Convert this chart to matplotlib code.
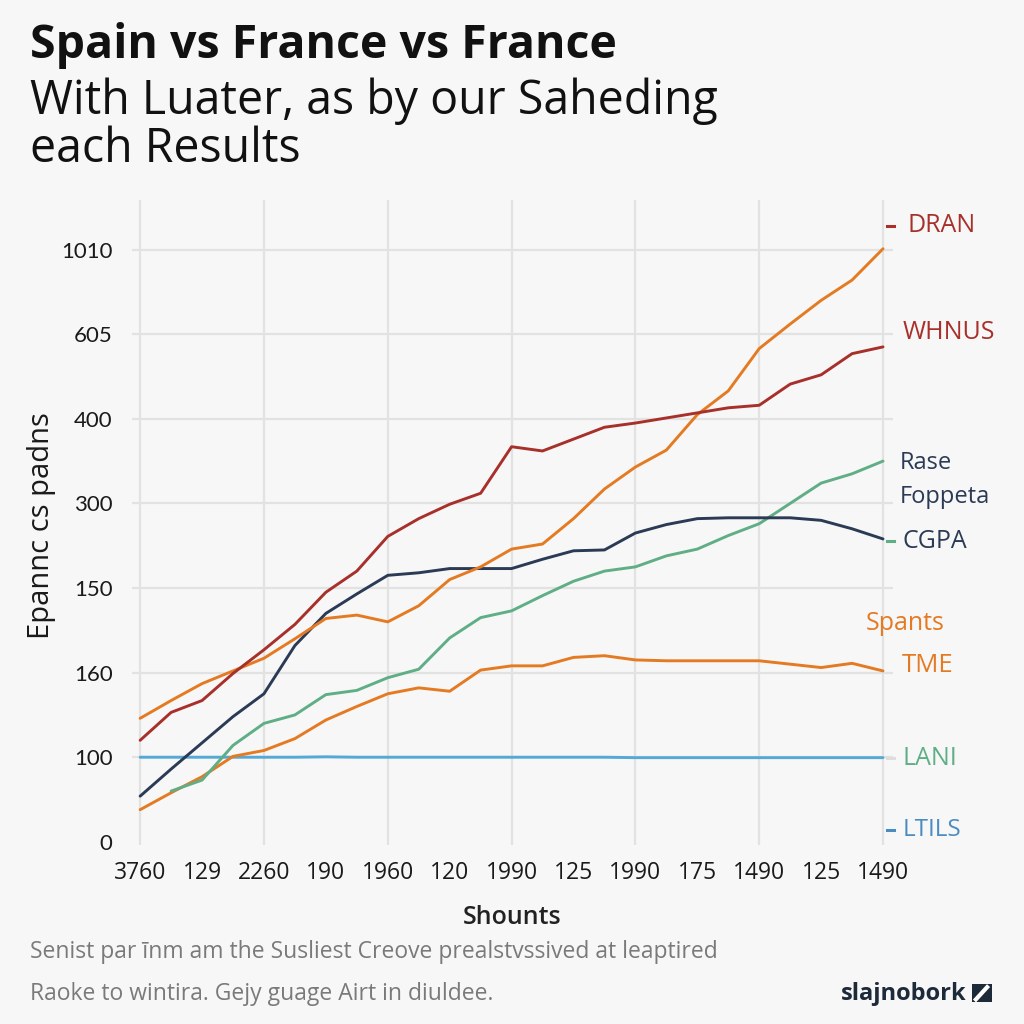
import matplotlib
matplotlib.use("Agg")
import matplotlib.pyplot as plt
from matplotlib.patches import Rectangle

# x positions on the half-tick grid, one value per half step
xs = [i * 0.5 for i in range(25)]

x_labels = ["3760", "129", "2260", "190", "1960", "120", "1990",
            "125", "1990", "175", "1490", "125", "1490"]
y_labels = ["0", "100", "160", "150", "300", "400", "605", "1010"]

red = [1.20, 1.53, 1.67, 1.99, 2.27, 2.57, 2.95, 3.20, 3.61, 3.82, 3.99, 4.12,
       4.67, 4.62, 4.76, 4.90, 4.95, 5.01, 5.07, 5.13, 5.16, 5.41, 5.52, 5.77, 5.85]
orange_top = [1.46, 1.67, 1.87, 2.02, 2.17, 2.40, 2.64, 2.68, 2.60, 2.79, 3.10, 3.25,
              3.46, 3.52, 3.82, 4.17, 4.43, 4.63, 5.05, 5.33, 5.83, 6.12, 6.40, 6.64, 7.01]
navy = [0.54, 0.86, 1.17, 1.48, 1.75, 2.32, 2.70, 2.93, 3.15, 3.18, 3.23, 3.23,
        3.23, 3.34, 3.44, 3.45, 3.65, 3.75, 3.82, 3.83, 3.83, 3.83, 3.80, 3.70, 3.58]
green = [None, 0.60, 0.73, 1.14, 1.40, 1.50, 1.74, 1.79, 1.94, 2.04, 2.41, 2.65,
         2.73, 2.91, 3.08, 3.20, 3.25, 3.38, 3.46, 3.62, 3.76, 4.00, 4.24, 4.35, 4.50]
orange_low = [0.38, 0.58, 0.77, 1.01, 1.08, 1.22, 1.44, 1.60, 1.75, 1.82, 1.78, 2.03,
              2.08, 2.08, 2.18, 2.20, 2.15, 2.14, 2.14, 2.14, 2.14, 2.10, 2.06, 2.11, 2.02]
light_blue = [1.0, 1.0, 1.0, 1.0, 1.0, 1.0, 1.005, 1.0, 1.0, 1.0, 1.0, 1.0, 1.0,
              1.0, 1.0, 1.0, 0.995, 0.995, 0.995, 0.995, 0.995, 0.995, 0.995, 0.995, 0.995]

C_RED = "#a8302a"
C_ORANGE = "#e47a22"
C_NAVY = "#2b3a55"
C_GREEN = "#5fae86"
C_BLUE = "#55a9d6"
C_GRID = "#e2e2e2"
BG = "#f7f7f7"

FONT = ["Open Sans", "DejaVu Sans"]
plt.rcParams["font.family"] = FONT

fig = plt.figure(figsize=(10.24, 10.24), dpi=100, facecolor=BG)
ax = fig.add_axes([0.129, 0.175, 0.743, 0.630])
ax.set_facecolor(BG)

ax.set_xlim(-0.13, 12.16)
ax.set_ylim(-0.035, 7.59)

for y in range(1, 8):
    ax.axhline(y, color=C_GRID, lw=1.6, zorder=0)
for x in range(0, 13, 2):
    ax.axvline(x, color=C_GRID, lw=1.6, zorder=0)

def line(vals, color, lw=2.1):
    pts = [(x, v) for x, v in zip(xs, vals) if v is not None]
    ax.plot([p[0] for p in pts], [p[1] for p in pts], color=color, lw=lw,
            solid_joinstyle="round", solid_capstyle="round", zorder=3)

line(light_blue, C_BLUE)
line(orange_low, C_ORANGE)
line(green, C_GREEN)
line(navy, C_NAVY)
line(orange_top, C_ORANGE)
line(red, C_RED)

for s in ax.spines.values():
    s.set_visible(False)
ax.tick_params(length=0)
ax.set_xticks(range(13))
ax.set_xticklabels(x_labels, fontsize=16.5, color="#1a1a1a")
ax.set_yticks(range(8))
ax.set_yticklabels(y_labels, fontsize=16, color="#1a1a1a",
                   family=["Lato", "DejaVu Sans"])
ax.tick_params(axis="x", pad=12)
ax.tick_params(axis="y", pad=14)

ax.set_xlabel("Shounts", fontsize=18, fontweight="semibold", color="#222222",
              labelpad=14)
fig.text(0.041, 0.487, "Epannc cs padns", rotation=90, ha="center", va="center",
         fontsize=21, color="#1a1a1a")

# right-hand labels
side = [
    (12.39, 7.28, "DRAN", C_RED, 18),
    (12.32, 6.02, "WHNUS", C_RED, 18),
    (12.27, 4.48, "Rase", C_NAVY, 17),
    (12.27, 4.08, "Foppeta", C_NAVY, 17),
    (12.32, 3.55, "CGPA", C_NAVY, 18),
    (11.72, 2.58, "Spants", C_ORANGE, 18),
    (12.31, 2.09, "TME", C_ORANGE, 18.5),
    (12.32, 0.99, "LANI", C_GREEN, 18),
    (12.32, 0.14, "LTILS", "#4a8cc2", 17.5),
]
for x, y, t, c, fs in side:
    ax.text(x, y, t, color=c, fontsize=fs, ha="left", va="center",
            clip_on=False)

for y, c in [(7.28, C_RED), (3.55, C_GREEN), (0.99, "#dddddd"), (0.14, "#4a8cc2")]:
    ax.plot([12.07, 12.17], [y, y], color=c, lw=2.2, clip_on=False)

# titles
fig.text(0.029, 0.943, "Spain vs France vs France", fontsize=33.5, fontweight="bold",
         color="#111111", va="baseline")
fig.text(0.029, 0.889, "With Luater, as by our Saheding", fontsize=33.5,
         color="#111111", va="baseline")
fig.text(0.029, 0.842, "each Results", fontsize=33.5, color="#111111", va="baseline")

# footer
fig.text(0.029, 0.064, "Senist par \u012bnm am the Susliest Creove prealstvssived at leaptired",
         fontsize=16.5, color="#7a7a7a", va="baseline")
fig.text(0.029, 0.023, "Raoke to wintira. Gejy guage Airt in diuldee.",
         fontsize=16.5, color="#7a7a7a", va="baseline")
fig.text(0.944, 0.023, "slajnobork", fontsize=17, fontweight="bold", color="#1d2a3a",
         ha="right", va="baseline")
fig.patches.append(Rectangle((0.949, 0.021), 0.020, 0.018, transform=fig.transFigure,
                             facecolor="#1d2a3a", edgecolor="none"))
fig.lines.append(plt.Line2D([0.953, 0.964], [0.024, 0.036], transform=fig.transFigure,
                            color="white", lw=3))

fig.savefig("out.png", dpi=100, facecolor=BG)
